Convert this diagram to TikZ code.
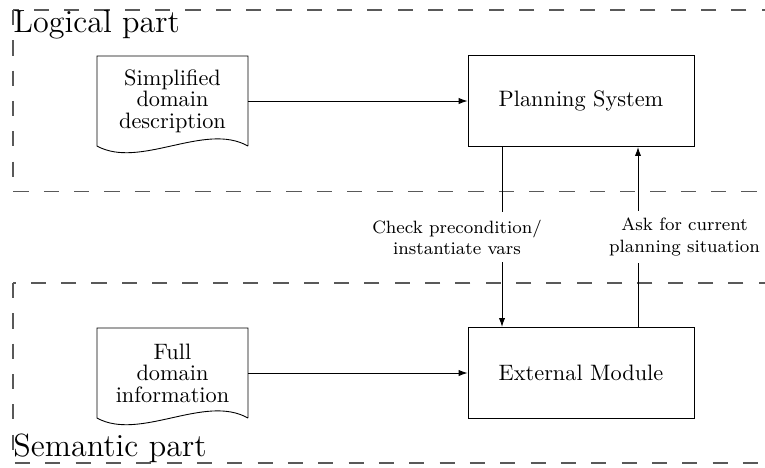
\documentclass[tikz,border=0pt]{standalone}
\usetikzlibrary{calc,arrows.meta}
\begin{document}
\begin{tikzpicture}[x=0.4484pt,y=-0.4484pt,
  region/.style={draw=black!65, line width=0.65pt, dash pattern=on 6.8pt off 6.8pt},
  procbox/.style={draw, minimum width=101.3pt, minimum height=40.9pt, inner sep=0pt},
  docnode/.style={minimum width=67.3pt, minimum height=40pt, inner sep=0pt, align=center, font=\fontsize{10}{9.6}\selectfont},
  lbl/.style={fill=white, font=\footnotesize, align=center},
  title/.style={font=\Large, inner sep=0pt},
  arr/.style={-{Latex[length=4pt,width=2.8pt]}}]
\useasboundingbox (0,0) rectangle (765,467);
\clip (0,0) rectangle (765,467);
\draw[region] (13,10) rectangle (820,191.5);
\draw[region] (13,283) rectangle (820,463);
\node[title, anchor=north west] (lp) at (13,10) {Logical part};
\node[title, anchor=south west] (sp) at (13,463) {Semantic part};
\node[procbox] (ps) at (581,101) {Planning System};
\node[procbox] (em) at (581,373) {External Module};
\node[docnode] (sd) at (172.5,101) {Simplified\\domain\\description};
\node[docnode] (fd) at (172.5,373) {Full\\domain\\information};
\foreach \n in {sd,fd}
  \draw (\n.south east) -- (\n.north east) -- (\n.north west) -- (\n.south west)
    .. controls +(43,23.5) and +(-43,-24.5) .. (\n.south east);
\draw[arr] (sd.east) -- (ps.west);
\draw[arr] (fd.east) -- (em.west);
\draw[arr] ($(ps.south)+(-79,0)$) -- ($(em.north)+(-79,0)$);
\draw[arr] ($(em.north)+(57,0)$) -- ($(ps.south)+(57,0)$);
\node[lbl] (l1) at (457,237) {Check precondition/\\instantiate vars};
\node[lbl] (l2) at (684.5,237) {Ask for current\\planning situation};
\end{tikzpicture}
\end{document}
